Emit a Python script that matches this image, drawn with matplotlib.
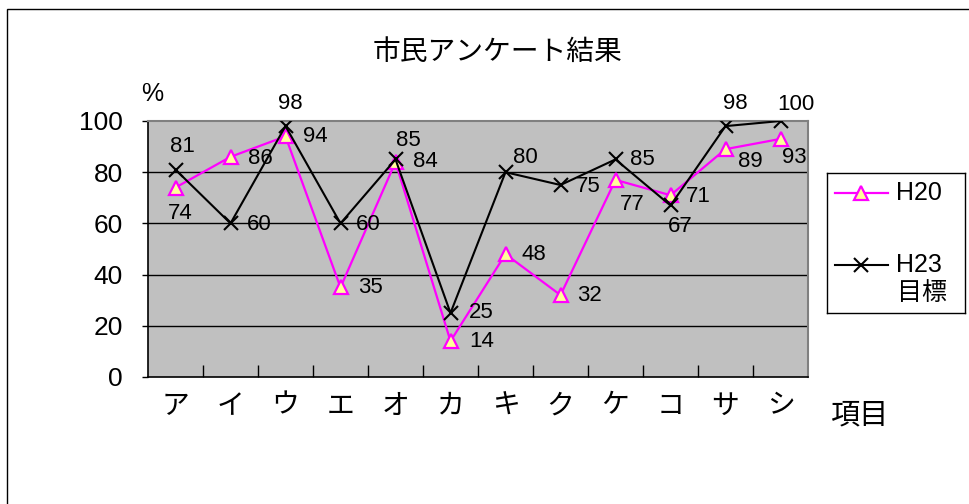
import matplotlib
matplotlib.use("Agg")
import matplotlib.pyplot as plt
import matplotlib.patches as mpatches

plt.rcParams['font.family'] = ['Liberation Sans', 'Noto Sans CJK JP']

# Survey results per item
items = ['ア', 'イ', 'ウ', 'エ', 'オ', 'カ', 'キ', 'ク', 'ケ', 'コ', 'サ', 'シ']
h20 = [74, 86, 94, 35, 84, 14, 48, 32, 77, 71, 89, 93]
h23 = [81, 60, 98, 60, 85, 25, 80, 75, 85, 67, 98, 100]
y_ticks = [0, 20, 40, 60, 80, 100]

# Label offsets (pixels) so the numbers do not sit on the lines
h20_offsets = [(5, -26), (30, -2), (30, 0), (30, 0), (30, 0), (31, 0),
               (28, 0), (29, 0), (17, -25), (28, -1), (25, -12), (14, -19)]
h23_offsets = [(7, 23), (29, -1), (5, 23), (28, -1), (13, 19), (31, 0),
               (20, 15), (28, -2), (27, 0), (10, -21), (10, 23), (15, 16)]

W, H = 969, 504
fig = plt.figure(figsize=(W / 100, H / 100), dpi=100)
fig.patch.set_facecolor('white')

# Outer chart frame (only left/top edges fall inside the canvas)
frame = mpatches.Rectangle((7 / W, -0.2), 1.5, 1.2 - 9 / H, transform=fig.transFigure,
                           fill=False, edgecolor='black', linewidth=1.0)
fig.add_artist(frame)

ax = fig.add_axes([148 / W, 1 - 377 / H, 660 / W, 256 / H])
ax.set_facecolor('#C0C0C0')

h20_style = dict(color='#FF00FF', linewidth=1.6, marker='^', markersize=10,
                 markerfacecolor='#FFFF99', markeredgecolor='#FF00FF', markeredgewidth=1.6)
h23_style = dict(color='black', linewidth=1.5, marker='x', markersize=10,
                 markeredgewidth=1.5)

x = list(range(len(items)))
ax.plot(x, h20, zorder=4, **h20_style)
ax.plot(x, h23, zorder=5, **h23_style)

for xi, v, off in zip(x, h20, h20_offsets):
    ax.annotate(str(v), (xi, v), xytext=off, textcoords='offset pixels',
                ha='center', va='center', fontsize=16, zorder=6)
for xi, v, off in zip(x, h23, h23_offsets):
    ax.annotate(str(v), (xi, v), xytext=off, textcoords='offset pixels',
                ha='center', va='center', fontsize=16, zorder=6)

ax.set_xlim(-0.5, len(items) - 0.5)
ax.set_ylim(0, 100)

# Gridlines
for g in y_ticks[1:-1]:
    ax.axhline(g, color='black', linewidth=1.0, zorder=1)

ax.set_yticks(y_ticks)
ax.set_yticklabels([str(t) for t in y_ticks])
ax.tick_params(axis='y', direction='out', length=4, width=1, pad=14, labelsize=19)

ax.set_xticks(x)
ax.set_xticklabels(items)
ax.tick_params(axis='x', which='major', length=0, pad=12, labelsize=20)
ax.set_xticks([i + 0.5 for i in x[:-1]], minor=True)
ax.tick_params(axis='x', which='minor', direction='in', length=9, width=1)

for side in ('top', 'right'):
    ax.spines[side].set_color('#808080')
    ax.spines[side].set_linewidth(1.5)
for side in ('left', 'bottom'):
    ax.spines[side].set_color('black')
    ax.spines[side].set_linewidth(1.2)

fig.text(497 / W, 1 - 53 / H, '市民アンケート結果', ha='center', va='center', fontsize=20)
fig.text(152 / W, 1 - 94 / H, '%', ha='center', va='center', fontsize=18)
fig.text(859 / W, 1 - 415 / H, '項目', ha='center', va='center', fontsize=21)

# Legend box drawn by hand so the two-line label lines up like the original
lax = fig.add_axes([827 / W, 1 - 313 / H, 138 / W, 140 / H])
lax.set_xlim(0, 138)
lax.set_ylim(140, 0)
lax.set_xticks([])
lax.set_yticks([])
lax.set_facecolor('white')
for s in lax.spines.values():
    s.set_color('black')
    s.set_linewidth(1.0)
lax.plot([8, 34, 61], [20, 20, 20], markevery=[1], **h20_style)
lax.plot([8, 34, 61], [92, 92, 92], markevery=[1], **h23_style)
lax.text(69, 20, 'H20', ha='left', va='center', fontsize=18)
lax.text(69, 92, 'H23', ha='left', va='center', fontsize=18)
lax.text(70, 120, '目標', ha='left', va='center', fontsize=18)

fig.savefig('out.png', dpi=100)
